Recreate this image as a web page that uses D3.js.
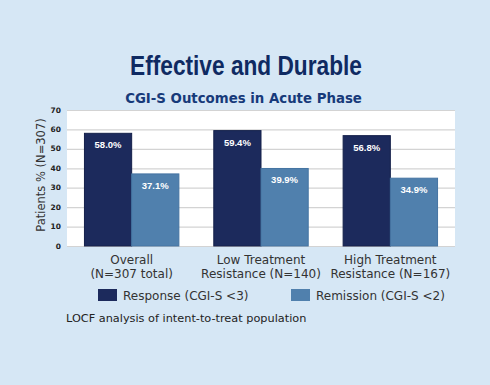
<!DOCTYPE html>
<html>
<head>
<meta charset="utf-8">
<script src="https://cdn.jsdelivr.net/npm/d3@7"></script>
<style>
  html, body { margin: 0; padding: 0; background: #d6e7f5; }
  svg { display: block; }
</style>
</head>
<body>
<svg id="chart" width="490" height="385"></svg>
<script>
// chart data
var groups = ["Overall", "Low Treatment Resistance", "High Treatment Resistance"];
var groupLines = [["Overall", "(N=307 total)"], ["Low Treatment", "Resistance (N=140)"], ["High Treatment", "Resistance (N=167)"]];
var seriesNames = ["Response (CGI-S <3)", "Remission (CGI-S <2)"];
var response = [58.0, 59.4, 56.8];
var remission = [37.1, 39.9, 34.9];
var yTicks = [0, 10, 20, 30, 40, 50, 60, 70];

var svg = d3.select("#chart"),
  width = +svg.attr("width"),
  height = +svg.attr("height"),
  margin = {top: 110, right: 35, bottom: 139, left: 67},
  innerW = width - margin.left - margin.right,
  innerH = height - margin.top - margin.bottom,
  colors = ["#1c2a5c", "#5080ad"];

var rows = groups.map(function (g, i) {
  return {group: g, lines: groupLines[i], values: [response[i], remission[i]]};
});

var x0 = d3.scaleBand()
  .domain(groups)
  .range([0, innerW])
  .paddingInner(0.27)
  .paddingOuter(0.135);

var x1 = d3.scaleBand()
  .domain([0, 1])
  .range([0, x0.bandwidth()]);

var y = d3.scaleLinear()
  .domain([0, 70])
  .range([innerH, 0]);

// squeeze/stretch a text to a given width around its centre
function fitText(sel, cx, baseY, w) {
  var len = sel.node().getComputedTextLength();
  sel.attr("text-anchor", "middle")
    .attr("transform", "translate(" + cx + "," + baseY + ") scale(" + (w / len) + ",1)");
}

// titles
var title = svg.append("text")
  .style("font-family", "'Liberation Sans', Arial, sans-serif")
  .style("font-weight", "bold")
  .style("font-size", "27px")
  .style("fill", "#0f2a62")
  .text("Effective and Durable");
fitText(title, 246, 75, 232);

var sub = svg.append("text")
  .style("font-family", "'DejaVu Sans', sans-serif")
  .style("font-weight", "bold")
  .style("font-size", "14px")
  .style("fill", "#173a7a")
  .text("CGI-S Outcomes in Acute Phase");
fitText(sub, 243.5, 103, 237);

var g = svg.append("g")
  .attr("transform", "translate(" + margin.left + "," + margin.top + ")");

// plot area
g.append("rect")
  .attr("x", 0).attr("y", 0)
  .attr("width", innerW).attr("height", innerH)
  .attr("fill", "#ffffff");

// gridlines
g.selectAll(".grid")
  .data(yTicks)
  .enter().append("line")
  .attr("x1", 0).attr("x2", innerW)
  .attr("y1", function (d) { return y(d) + 0.5; })
  .attr("y2", function (d) { return y(d) + 0.5; })
  .attr("stroke", "#d3d3d3")
  .attr("stroke-width", 1.2);

// y tick labels
g.selectAll(".ytick")
  .data(yTicks)
  .enter().append("text")
  .attr("x", -6)
  .attr("y", function (d) { return y(d); })
  .attr("dy", "0.35em")
  .attr("text-anchor", "end")
  .style("font-family", "'DejaVu Sans', sans-serif")
  .style("font-weight", "bold")
  .style("font-size", "7.5px")
  .style("fill", "#222")
  .text(function (d) { return d; });

// y axis title
svg.append("text")
  .attr("transform", "translate(45," + 175 + ") rotate(-90)")
  .attr("text-anchor", "middle")
  .style("font-family", "'DejaVu Sans', sans-serif")
  .style("font-size", "11.5px")
  .style("fill", "#333")
  .text("Patients % (N=307)");

// bars
var grp = g.selectAll(".grp")
  .data(rows)
  .enter().append("g")
  .attr("transform", function (d) { return "translate(" + x0(d.group) + ",0)"; });

grp.selectAll("rect")
  .data(function (d) { return d.values; })
  .enter().append("rect")
  .attr("x", function (d, i) { return x1(i); })
  .attr("y", function (d) { return y(d); })
  .attr("width", x1.bandwidth())
  .attr("height", function (d) { return innerH - y(d); })
  .attr("fill", function (d, i) { return colors[i]; })
  .attr("stroke", function (d, i) { return i === 0 ? "#14204a" : "#4574a2"; })
  .attr("stroke-width", 1);

grp.selectAll(".val")
  .data(function (d) { return d.values; })
  .enter().append("text")
  .attr("x", function (d, i) { return x1(i) + x1.bandwidth() / 2; })
  .attr("y", function (d) { return y(d) + 15; })
  .attr("text-anchor", "middle")
  .style("font-family", "'Liberation Sans', Arial, sans-serif")
  .style("font-weight", "bold")
  .style("font-size", "9.5px")
  .style("fill", "#ffffff")
  .text(function (d) { return d.toFixed(1) + "%"; });

// x labels
var xl = g.selectAll(".xlab")
  .data(rows)
  .enter().append("text")
  .attr("x", function (d) { return x0(d.group) + x0.bandwidth() / 2; })
  .attr("y", 264 - margin.top)
  .attr("text-anchor", "middle")
  .style("font-family", "'DejaVu Sans', sans-serif")
  .style("font-size", "12px")
  .style("fill", "#333");

xl.selectAll("tspan")
  .data(function (d) { return d.lines; })
  .enter().append("tspan")
  .attr("x", function () { var p = d3.select(this.parentNode).datum(); return x0(p.group) + x0.bandwidth() / 2; })
  .attr("dy", function (d, i) { return i === 0 ? 0 : 13.5; })
  .text(function (d) { return d; });

// legend
var legX = [98, 291];
var leg = svg.selectAll(".leg")
  .data(seriesNames)
  .enter().append("g")
  .attr("transform", function (d, i) { return "translate(" + legX[i] + ",289)"; });

leg.append("rect")
  .attr("width", 19).attr("height", 12)
  .attr("fill", function (d, i) { return colors[i]; });

leg.append("text")
  .attr("x", 25).attr("y", 11)
  .style("font-family", "'DejaVu Sans', sans-serif")
  .style("font-size", "12px")
  .style("fill", "#333")
  .text(function (d) { return d; });

// footnote
svg.append("text")
  .attr("x", 66).attr("y", 322)
  .style("font-family", "'DejaVu Sans', sans-serif")
  .style("font-size", "11.3px")
  .style("fill", "#222")
  .text("LOCF analysis of intent-to-treat population");
</script>
</body>
</html>
